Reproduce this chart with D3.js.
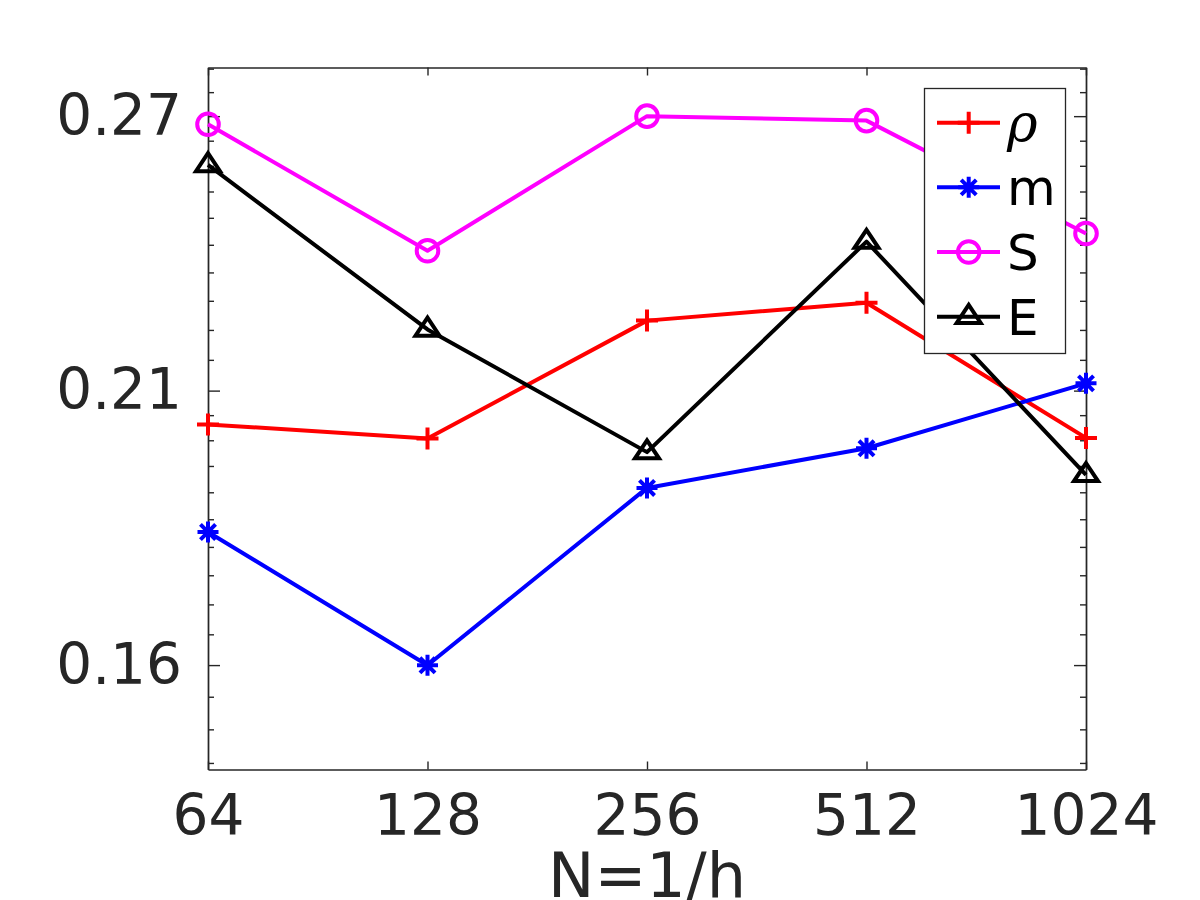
<!DOCTYPE html>
<html>
<head>
<meta charset="utf-8">
<script src="https://cdn.jsdelivr.net/npm/d3@7"></script>
<style>
  body { margin: 0; background: #fff; }
  svg { display: block; font-family: "DejaVu Sans", sans-serif; }
</style>
</head>
<body>
<div id="chart"></div>
<script>
// N = 1/h values on the x axis
const nValues = [64, 128, 256, 512, 1024];

// series values
const rhoValues = [0.2036, 0.2010, 0.2239, 0.2276, 0.2011];
const mValues   = [0.1845, 0.1633, 0.1921, 0.1992, 0.2114];
const sValues   = [0.2680, 0.2387, 0.2700, 0.2689, 0.2425];
const eValues   = [0.2582, 0.2221, 0.1985, 0.2407, 0.1944];

const seriesNames  = ['\u03c1', 'm', 'S', 'E'];
const seriesColors = ['#ff0000', '#0000ff', '#ff00ff', '#000000'];
const seriesMarkers = ['plus', 'star', 'circle', 'triangle'];

const xTickValues = [64, 128, 256, 512, 1024];
const yTickValues = [0.163333, 0.21, 0.27];
const yTickLabels = ['0.16', '0.21', '0.27'];
const yDomain = [0.14844, 0.2823];

const width = 1200, height = 900;
const axLeft = 208, axRight = 1086, axTop = 67.5, axBottom = 769.5;
const axisColor = '#262626';
const font = '"DejaVu Sans", sans-serif';

const svg = d3.select('#chart').append('svg')
  .attr('width', width)
  .attr('height', height);

const x = d3.scaleLog().base(2).domain([64, 1024]).range([axLeft, axRight]);
const y = d3.scaleLog().domain(yDomain).range([axBottom, axTop]);

// minor ticks: ten linear steps inside each major interval, continued past the ends
const yMinor = [];
for (let i = 0; i < yTickValues.length - 1; i++) {
  const a = yTickValues[i], b = yTickValues[i + 1], step = (b - a) / 10;
  for (let k = 1; k < 10; k++) yMinor.push(a + k * step);
  if (i === 0) for (let v = a - step; v >= yDomain[0]; v -= step) yMinor.push(v);
  if (i === yTickValues.length - 2) for (let v = b + step; v <= yDomain[1]; v += step) yMinor.push(v);
}

function styleAxis(g) {
  g.attr('font-family', font);
  g.selectAll('path, line').attr('stroke', axisColor).attr('stroke-width', 1.4);
  g.selectAll('text').attr('fill', axisColor).attr('font-size', 56.5);
}

const labelOf = d => yTickLabels[yTickValues.indexOf(d)];

svg.append('g')
  .attr('transform', `translate(0,${axBottom})`)
  .call(d3.axisBottom(x).tickValues(xTickValues).tickFormat(d => d).tickSizeInner(-8).tickSizeOuter(0).tickPadding(25))
  .call(styleAxis);

svg.append('g')
  .attr('transform', `translate(0,${axTop})`)
  .call(d3.axisTop(x).tickValues(xTickValues).tickFormat('').tickSizeInner(-8).tickSizeOuter(0))
  .call(styleAxis);

svg.append('g')
  .attr('transform', `translate(${axLeft},0)`)
  .call(d3.axisLeft(y).tickValues(yTickValues).tickFormat(labelOf).tickSizeInner(-12).tickSizeOuter(0).tickPadding(26))
  .call(styleAxis);

svg.append('g')
  .attr('transform', `translate(${axLeft},0)`)
  .call(d3.axisLeft(y).tickValues(yMinor).tickFormat('').tickSizeInner(-6).tickSizeOuter(0))
  .call(styleAxis);

svg.append('g')
  .attr('transform', `translate(${axRight},0)`)
  .call(d3.axisRight(y).tickValues(yTickValues).tickFormat('').tickSizeInner(-12).tickSizeOuter(0))
  .call(styleAxis);

svg.append('g')
  .attr('transform', `translate(${axRight},0)`)
  .call(d3.axisRight(y).tickValues(yMinor).tickFormat('').tickSizeInner(-6).tickSizeOuter(0))
  .call(styleAxis);

svg.append('text')
  .attr('x', (axLeft + axRight) / 2)
  .attr('y', 897)
  .attr('text-anchor', 'middle')
  .attr('font-family', font)
  .attr('font-size', 62)
  .attr('fill', axisColor)
  .text('N=1/h');

function markerPath(kind) {
  if (kind === 'plus') return 'M-11,0H11M0,-11V11';
  if (kind === 'star') {
    const s = 10.5, d = s * 0.72;
    return `M${-s},0H${s}M0,${-s}V${s}M${-d},${-d}L${d},${d}M${-d},${d}L${d},${-d}`;
  }
  if (kind === 'circle') return d3.symbol(d3.symbolCircle, Math.PI * 10.8 * 10.8)();
  return 'M0,-11.8L12,6.2L-12,6.2Z';
}

const seriesValues = [rhoValues, mValues, sValues, eValues];
const line = d3.line().x(d => x(d[0])).y(d => y(d[1]));

seriesValues.forEach((vals, i) => {
  const pts = nValues.map((n, j) => [n, vals[j]]);
  const g = svg.append('g');
  g.append('path')
    .datum(pts)
    .attr('d', line)
    .attr('fill', 'none')
    .attr('stroke', seriesColors[i])
    .attr('stroke-width', 4)
    .attr('stroke-linejoin', 'round');
  g.selectAll('path.mk')
    .data(pts)
    .join('path')
    .attr('class', 'mk')
    .attr('transform', d => `translate(${x(d[0])},${y(d[1])})`)
    .attr('d', markerPath(seriesMarkers[i]))
    .attr('fill', 'none')
    .attr('stroke', seriesColors[i])
    .attr('stroke-width', 4);
});

// legend
const legend = svg.append('g');
legend.append('rect')
  .attr('x', 924.5).attr('y', 88.5)
  .attr('width', 141).attr('height', 265)
  .attr('fill', '#fff')
  .attr('stroke', axisColor)
  .attr('stroke-width', 1.3);

const rowY = d3.scalePoint().domain(seriesNames).range([122.7, 316.7]);

seriesNames.forEach((name, i) => {
  const ry = rowY(name);
  legend.append('line')
    .attr('x1', 937).attr('x2', 1000)
    .attr('y1', ry).attr('y2', ry)
    .attr('stroke', seriesColors[i])
    .attr('stroke-width', 4);
  legend.append('path')
    .attr('transform', `translate(968.7,${ry})`)
    .attr('d', markerPath(seriesMarkers[i]))
    .attr('fill', 'none')
    .attr('stroke', seriesColors[i])
    .attr('stroke-width', 4);
  const t = legend.append('text')
    .attr('x', 1007)
    .attr('y', ry + 18)
    .attr('font-family', font)
    .attr('font-size', 50)
    .attr('fill', '#000')
    .text(name);
  if (i === 0) t.attr('font-family', '"DejaVu Serif", serif').attr('font-style', 'italic').attr('font-size', 52);
});
</script>
</body>
</html>
